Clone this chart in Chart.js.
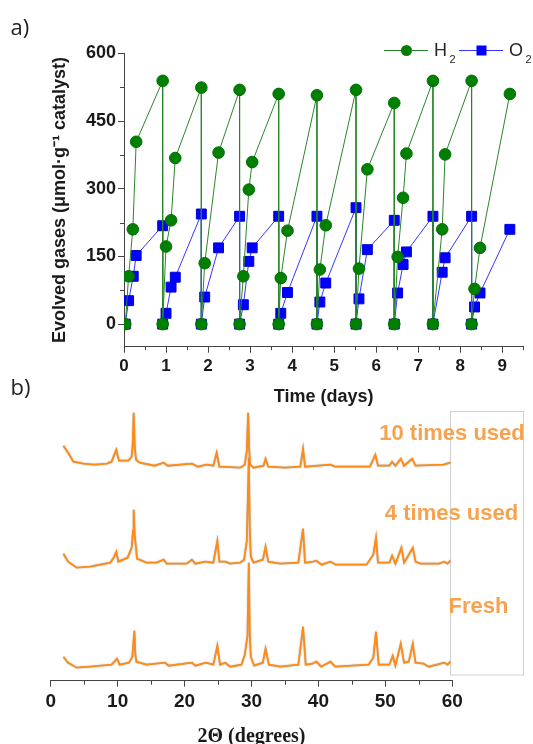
<!DOCTYPE html>
<html lang="en">
<head>
<meta charset="UTF-8">
<title>Gas evolution cycles and XRD</title>
<script src="https://cdn.jsdelivr.net/npm/chart.js"></script>
<style>
  body { margin: 0; background: #fff; }
  #wrap { position: relative; width: 533px; height: 744px; overflow: hidden; }
  canvas { position: absolute; left: 0; }
  #cycles { top: 0; }
  #xrd { top: 400px; }
  .panel { position: absolute; left: 10.5px; font-family: "Open Sans", sans-serif; font-size: 22px; line-height: 22px; color: #222; }
</style>
</head>
<body>
<div id="wrap">
  <canvas id="cycles" width="533" height="410"></canvas>
  <canvas id="xrd" width="533" height="344"></canvas>
  <div class="panel" style="top:14.8px">a)</div>
  <div class="panel" style="top:374.5px">b)</div>
</div>

<script>
  // panel a: evolved gases per cycle (days, umol/g catalyst)
  const h2Days = [0.03, 0.11, 0.21, 0.29, 0.92, 0.92,
    1.00, 1.12, 1.22, 1.84, 1.84,
    1.92, 2.25, 2.75, 2.75,
    2.84, 2.97, 3.05, 3.68, 3.68,
    3.73, 3.89, 4.59, 4.59,
    4.66, 4.80, 5.52, 5.52,
    5.59, 5.79, 6.43, 6.43,
    6.51, 6.64, 6.72, 7.35, 7.35,
    7.57, 7.64, 8.27, 8.27,
    8.34, 8.47, 9.18];
  const h2Values = [0, 106, 210, 404, 539, 0,
    172, 230, 368, 524, 0,
    135, 380, 519, 0,
    106, 298, 359, 510, 0,
    102, 207, 507, 0,
    121, 219, 519, 0,
    123, 343, 490, 0,
    149, 280, 378, 539, 0,
    210, 376, 539, 0,
    78, 169, 510];
  const o2Days = [0.03, 0.11, 0.22, 0.29, 0.92, 0.92,
    1.00, 1.12, 1.22, 1.84, 1.84,
    1.92, 2.25, 2.75, 2.75,
    2.84, 2.97, 3.05, 3.68, 3.68,
    3.73, 3.89, 4.59, 4.59,
    4.66, 4.80, 5.52, 5.52,
    5.59, 5.79, 6.43, 6.43,
    6.51, 6.64, 6.72, 7.35, 7.35,
    7.57, 7.64, 8.27, 8.27,
    8.34, 8.47, 9.18];
  const o2Values = [0, 52, 106, 152, 218, 0,
    24, 82, 104, 244, 0,
    60, 169, 239, 0,
    43, 139, 169, 239, 0,
    24, 70, 239, 0,
    49, 91, 258, 0,
    56, 165, 230, 0,
    69, 132, 160, 239, 0,
    115, 147, 239, 0,
    38, 69, 210];
  const gasNames = [["H", "2"], ["O", "2"]];

  // panel b: XRD patterns, 2theta (deg) and stacked intensity (a.u.)
  const used10Angle = [1.9, 2.6, 3.4, 4.9, 6.5, 8.4, 9.1, 9.8, 10.2, 11.6, 12.1, 12.25, 12.4, 12.55, 12.75, 13.3, 15.5, 16.9, 17.5,
    21.1, 22.0, 23.3, 24.3, 24.8, 25.2, 28.3, 29.0, 29.3, 29.5, 29.65, 29.8, 30.3, 31.8, 32.1, 32.5, 35.0, 37.3, 37.7, 38.0,
    41.8, 42.5, 47.7, 48.5, 48.9, 50.6, 51.0, 51.5, 52.3, 52.8, 54.0, 54.5, 58.7, 59.7];
  const used10Int = [235, 228, 219, 217, 216, 217, 219, 231, 220, 220, 224, 236, 268, 234, 221, 218, 215, 218, 215,
    217, 214, 216, 215, 228, 214, 213, 216, 230, 268, 232, 216, 213, 215, 222, 214, 213, 214, 232, 214,
    216, 214, 214, 226, 215, 215, 219, 215, 222, 215, 222, 215, 216, 218];

  const used4Angle = [1.9, 2.6, 3.9, 5.9, 8.9, 9.4, 9.8, 10.1, 11.5, 12.1, 12.3, 12.4, 12.55, 12.7, 12.9, 14.3, 15.8, 16.9, 17.3,
    20.3, 21.1, 21.6, 23.1, 24.3, 24.9, 25.2, 26.1, 26.8, 28.3, 28.9, 29.3, 29.6, 29.75, 29.9, 30.3, 31.7, 32.1, 32.5, 34.3,
    37.0, 37.7, 38.0, 39.2, 39.7, 40.5, 41.8, 42.6, 47.2, 48.2, 48.6, 48.9, 50.6, 51.0, 51.5, 52.4, 52.8, 54.1, 54.5, 55.2,
    58.0, 58.8, 59.3, 59.7];
  const used4Int = [127, 119, 113, 114, 118, 123, 129, 119, 123, 133, 150, 171, 145, 136, 122, 118, 118, 121, 117,
    117, 121, 117, 119, 118, 140, 119, 119, 117, 118, 121, 140, 223, 150, 124, 118, 121, 134, 119, 117,
    118, 152, 118, 119, 120, 116, 119, 116, 116, 126, 143, 118, 118, 125, 117, 133, 118, 133, 119, 117,
    117, 119, 117, 120];

  const freshAngle = [1.9, 2.6, 3.9, 5.9, 9.1, 9.9, 10.3, 11.7, 12.2, 12.5, 12.65, 12.8, 14.3, 17.1, 17.6, 21.1, 21.6, 23.2, 24.3,
    24.9, 25.3, 26.1, 26.8, 28.5, 29.0, 29.4, 29.6, 29.75, 29.9, 30.4, 31.7, 32.1, 32.6, 34.3, 37.0, 37.7, 38.1, 39.1, 39.7,
    40.4, 41.8, 42.5, 47.5, 48.2, 48.6, 49.0, 50.6, 51.1, 51.5, 52.3, 52.8, 53.5, 54.1, 54.5, 55.7, 56.5, 58.8, 59.3, 59.7];
  const freshInt = [24, 18, 13, 14, 16, 22, 16, 18, 24, 50, 26, 19, 16, 18, 15, 18, 15, 18, 16,
    35, 16, 18, 14, 16, 26, 45, 118, 45, 24, 15, 18, 32, 16, 14, 16, 54, 16, 17, 19,
    14, 19, 14, 16, 23, 49, 16, 16, 25, 15, 37, 18, 19, 37, 18, 17, 14, 18, 16, 19];

  const xrdNames = ["10 times used", "4 times used", "Fresh"];

  const sans = '"Liberation Sans", Arial, sans-serif';
  const ink = "#1a1a1a";
  const axisColor = "#444";

  const toPoints = (xs, ys) => xs.map((x, i) => ({ x: x, y: ys[i] }));

  // short minor ticks drawn between the library's major ticks
  const minorTicks = {
    id: "minorTicks",
    afterDraw(chart, args, opts) {
      const ctx = chart.ctx;
      ctx.save();
      ctx.strokeStyle = axisColor;
      ctx.lineWidth = 1;
      opts.axes.forEach(a => {
        const s = chart.scales[a.id];
        for (let v = a.from; v <= s.max + 1e-9; v += a.step) {
          ctx.beginPath();
          if (s.isHorizontal()) {
            const px = Math.round(s.getPixelForValue(v)) + 0.5;
            ctx.moveTo(px, s.top);
            ctx.lineTo(px, s.top + a.len);
          } else {
            const py = Math.round(s.getPixelForValue(v)) + 0.5;
            ctx.moveTo(s.right, py);
            ctx.lineTo(s.right - a.len, py);
          }
          ctx.stroke();
        }
      });
      ctx.restore();
    }
  };

  // line-through-marker legend with subscripts, top right
  const gasLegend = {
    id: "gasLegend",
    afterDraw(chart) {
      const ctx = chart.ctx;
      const y = 50.5;
      const starts = [384, 459];
      chart.data.datasets.forEach((ds, i) => {
        const x0 = starts[i];
        ctx.save();
        ctx.strokeStyle = ds.borderColor;
        ctx.lineWidth = 1;
        ctx.beginPath();
        ctx.moveTo(x0, y);
        ctx.lineTo(x0 + 44, y);
        ctx.stroke();
        ctx.fillStyle = ds.pointBackgroundColor;
        const cx = x0 + 22.5;
        if (ds.pointStyle === "rect") {
          ctx.fillRect(cx - 5, y - 5, 10, 10);
        } else {
          ctx.beginPath();
          ctx.arc(cx, y, 5.5, 0, Math.PI * 2);
          ctx.fill();
        }
        ctx.fillStyle = "#262626";
        ctx.textBaseline = "alphabetic";
        ctx.font = "18px " + sans;
        ctx.fillText(gasNames[i][0], x0 + 50, y + 5.6);
        const w = ctx.measureText(gasNames[i][0]).width;
        ctx.font = "11px " + sans;
        ctx.fillText(gasNames[i][1], x0 + 50 + w + 2.5, y + 12.5);
        ctx.restore();
      });
    }
  };

  new Chart(document.getElementById("cycles"), {
    type: "scatter",
    data: {
      datasets: [
        {
          label: "H2",
          data: toPoints(h2Days, h2Values),
          showLine: true,
          borderColor: "#2a862a",
          borderWidth: 1,
          pointStyle: "circle",
          pointRadius: 5.8,
          pointBackgroundColor: "#008000",
          pointBorderColor: "#006e00",
          pointBorderWidth: 1
        },
        {
          label: "O2",
          data: toPoints(o2Days, o2Values),
          showLine: true,
          borderColor: "#3535ff",
          borderWidth: 1,
          pointStyle: "rect",
          pointRadius: 7,
          pointBackgroundColor: "#0000ff",
          pointBorderColor: "#0000d8",
          pointBorderWidth: 1
        }
      ]
    },
    options: {
      responsive: false,
      animation: false,
      devicePixelRatio: 1,
      layout: { padding: { top: 53.3, right: 9.7, left: 0, bottom: 0 } },
      plugins: {
        legend: { display: false },
        tooltip: { enabled: false },
        minorTicks: { axes: [{ id: "x", from: 0.5, step: 1, len: 3.5 }, { id: "y", from: 75, step: 150, len: 4 }] }
      },
      scales: {
        x: {
          type: "linear",
          min: 0,
          max: 9.5,
          afterFit: s => { s.height = 63.3; },
          ticks: { stepSize: 1, includeBounds: false, padding: 3, color: ink, maxRotation: 0, autoSkip: false,
            font: { family: sans, size: 17, weight: "bold" } },
          grid: { drawOnChartArea: false, drawTicks: true, tickLength: 6, color: axisColor },
          border: { color: axisColor, width: 1 },
          title: { display: true, text: "Time (days)", color: ink,
            font: { family: sans, size: 18, weight: "bold" }, padding: { top: 0, bottom: 2.2 } }
        },
        y: {
          min: -50,
          max: 600,
          afterFit: s => { s.width = 124; },
          ticks: { stepSize: 150, includeBounds: false, padding: 2, color: ink,
            font: { family: sans, size: 18, weight: "bold" } },
          grid: { drawOnChartArea: false, drawTicks: true, tickLength: 6, color: axisColor },
          border: { color: axisColor, width: 1 },
          title: { display: true, text: "Evolved gases (\u03bcmol\u00b7g\u207b\u00b9 catalyst)", color: ink,
            font: { family: sans, size: 18, weight: "bold" }, padding: { top: 49.2, bottom: 0 } }
        }
      }
    },
    plugins: [minorTicks, gasLegend]
  });

  // pattern names and the light frame on the right
  const xrdNotes = {
    id: "xrdNotes",
    beforeDatasetsDraw(chart) {
      const ctx = chart.ctx;
      ctx.save();
      ctx.strokeStyle = "#d0d0d0";
      ctx.lineWidth = 1;
      ctx.strokeRect(450.5, 11.5, 73, 263.5);
      ctx.restore();
    },
    afterDraw(chart) {
      const ctx = chart.ctx;
      const spots = [[452, 33.5], [451.5, 113.5], [478.5, 206.5]];
      ctx.save();
      ctx.fillStyle = "#f7a24e";
      ctx.font = "bold 22px " + sans;
      ctx.textAlign = "center";
      ctx.textBaseline = "middle";
      xrdNames.forEach((name, i) => ctx.fillText(name, spots[i][0], spots[i][1]));
      ctx.restore();
    }
  };

  // gray halo under the orange traces
  const traceHalo = {
    id: "traceHalo",
    beforeDatasetsDraw(chart) {
      const ctx = chart.ctx;
      ctx.save();
      ctx.shadowColor = "rgba(100, 100, 100, 0.55)";
      ctx.shadowBlur = 1.5;
    },
    afterDatasetsDraw(chart) {
      chart.ctx.restore();
    }
  };

  const traces = [
    toPoints(used10Angle, used10Int),
    toPoints(used4Angle, used4Int),
    toPoints(freshAngle, freshInt)
  ];

  new Chart(document.getElementById("xrd"), {
    type: "scatter",
    data: {
      datasets: traces.map((pts, i) => ({
        label: xrdNames[i],
        data: pts,
        showLine: true,
        borderColor: "#ff8a14",
        borderWidth: 1.8,
        pointRadius: 0,
        clip: false
      }))
    },
    options: {
      responsive: false,
      animation: false,
      devicePixelRatio: 1,
      layout: { padding: { top: 10, left: 50.7, right: 80.7, bottom: 0 } },
      plugins: {
        legend: { display: false },
        tooltip: { enabled: false },
        minorTicks: { axes: [{ id: "x", from: 5, step: 10, len: 4 }] }
      },
      scales: {
        x: {
          type: "linear",
          min: 0,
          max: 60,
          afterFit: s => { s.height = 63.3; },
          ticks: { stepSize: 10, padding: 4, color: ink, maxRotation: 0, autoSkip: false,
            font: { family: sans, size: 19, weight: "bold" } },
          grid: { drawOnChartArea: false, drawTicks: true, tickLength: 6, color: axisColor },
          border: { color: axisColor, width: 1 },
          title: { display: true, text: "2\u0398 (degrees)", color: ink,
            font: { family: '"Liberation Serif", "Times New Roman", serif', size: 20, weight: "bold" },
            padding: { top: 0, bottom: -4.7 } }
        },
        y: { display: false, min: 0, max: 270.7 }
      }
    },
    plugins: [minorTicks, xrdNotes, traceHalo]
  });
</script>
</body>
</html>
